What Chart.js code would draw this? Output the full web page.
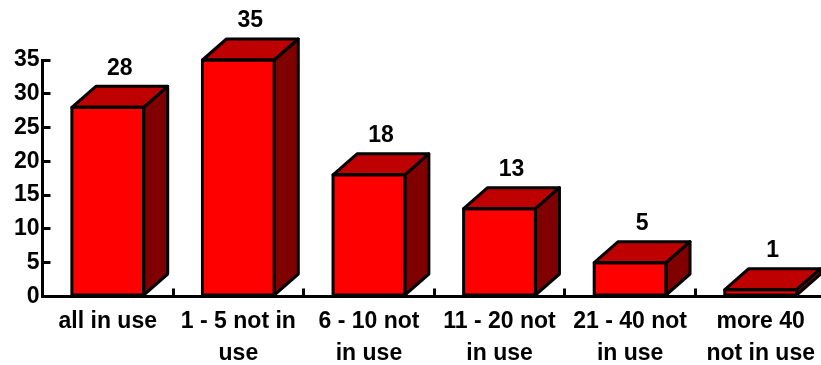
<!DOCTYPE html>
<html>
<head>
<meta charset="utf-8">
<style>
  html, body { margin: 0; padding: 0; background: #fff; overflow: hidden; }
  #wrap { width: 821px; height: 365px; overflow: hidden; }
  canvas { display: block; }
</style>
<script src="https://cdn.jsdelivr.net/npm/chart.js@4"></script>
</head>
<body>
<div id="wrap"><canvas id="myChart" width="833" height="365"></canvas></div>
<script>
const categories = [
    'all in use',
    ['1 - 5 not in', 'use'],
    ['6 - 10 not', 'in use'],
    ['11 - 20 not', 'in use'],
    ['21 - 40 not', 'in use'],
    ['more 40', 'not in use']
];
const values = [28, 35, 18, 13, 5, 1];
const yTicks = [0, 5, 10, 15, 20, 25, 30, 35];

const FONT = '"Liberation Sans", Arial, sans-serif';
const DEPTH_X = 24;
const DEPTH_Y = 21;

// Chart.js has no 3D bars, so the top and side faces are added around each bar element
const boxBars = {
    id: 'boxBars',
    afterDatasetsDraw(chart) {
        const ctx = chart.ctx;
        const bars = chart.getDatasetMeta(0).data;
        ctx.save();
        ctx.lineWidth = 3;
        ctx.strokeStyle = '#000';
        ctx.lineJoin = 'round';
        bars.forEach((bar, i) => {
            const half = bar.width / 2;
            const l = bar.x - half, r = bar.x + half;
            const t = bar.y, b = bar.base;

            ctx.beginPath();
            ctx.moveTo(l, t);
            ctx.lineTo(l + DEPTH_X, t - DEPTH_Y);
            ctx.lineTo(r + DEPTH_X, t - DEPTH_Y);
            ctx.lineTo(r, t);
            ctx.closePath();
            ctx.fillStyle = '#bf0000';
            ctx.fill();
            ctx.stroke();

            ctx.beginPath();
            ctx.moveTo(r, t);
            ctx.lineTo(r + DEPTH_X, t - DEPTH_Y);
            ctx.lineTo(r + DEPTH_X, b - DEPTH_Y);
            ctx.lineTo(r, b);
            ctx.closePath();
            ctx.fillStyle = '#800000';
            ctx.fill();
            ctx.stroke();

            ctx.strokeRect(l, t, r - l, b - t);

            ctx.fillStyle = '#000';
            ctx.font = 'bold 23px ' + FONT;
            ctx.textAlign = 'center';
            ctx.textBaseline = 'middle';
            ctx.fillText(values[i], bar.x + DEPTH_X / 2, t - DEPTH_Y - 18);
        });
        ctx.restore();
    }
};

new Chart(document.getElementById('myChart').getContext('2d'), {
    type: 'bar',
    data: {
        labels: categories,
        datasets: [{
            data: values,
            backgroundColor: '#ff0000',
            borderWidth: 0,
            barPercentage: 0.55,
            categoryPercentage: 1
        }]
    },
    options: {
        responsive: false,
        animation: false,
        layout: { padding: { top: 60, right: 0, left: 0, bottom: 0 } },
        plugins: { legend: { display: false }, tooltip: { enabled: false } },
        scales: {
            x: {
                offset: true,
                border: { color: '#000', width: 3 },
                grid: { drawOnChartArea: false, offset: true, color: '#000', lineWidth: 3, tickLength: -8 },
                ticks: {
                    color: '#000',
                    font: { family: FONT, size: 23, weight: 'bold', lineHeight: 1.36 },
                    padding: 18,
                    maxRotation: 0,
                    autoSkip: false
                },
                afterFit(scale) { scale.height = 68.5; }
            },
            y: {
                min: 0,
                max: 35,
                afterBuildTicks(scale) { scale.ticks = yTicks.map(v => ({ value: v })); },
                border: { color: '#000', width: 3 },
                grid: { drawOnChartArea: false, color: '#000', lineWidth: 3, tickLength: -8 },
                ticks: {
                    color: '#000',
                    font: { family: FONT, size: 23, weight: 'bold' },
                    padding: 11
                },
                afterFit(scale) { scale.width = 42.5; }
            }
        }
    },
    plugins: [boxBars]
});
</script>
</body>
</html>
